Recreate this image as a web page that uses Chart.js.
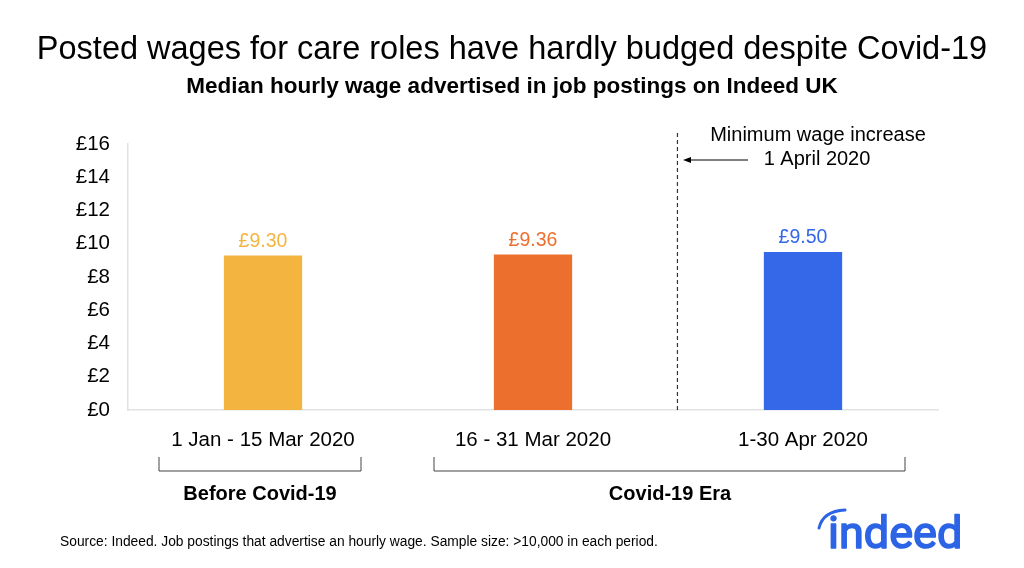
<!DOCTYPE html>
<html>
<head>
<meta charset="utf-8">
<script src="https://cdn.jsdelivr.net/npm/chart.js@4"></script>
<style>
  html, body { margin: 0; padding: 0; background: #fff; }
  #wrap { width: 1024px; height: 568px; }
</style>
</head>
<body>
<div id="wrap"><canvas id="wages"></canvas></div>
<script>
// data
const periods = ['1 Jan - 15 Mar 2020', '16 - 31 Mar 2020', '1-30 Apr 2020']
const wages = [9.30, 9.36, 9.50]
const barColors = ['#F4B440', '#EC6F2E', '#3468E8']
const yTicks = [0, 2, 4, 6, 8, 10, 12, 14, 16]
const groups = ['Before Covid-19', 'Covid-19 Era']

const FONT = '"Liberation Sans", Arial, sans-serif'

// titles, bar labels, brackets, the 1 April marker, source and logo
const extras = {
  id: 'extras',
  afterDraw(chart) {
    const c = chart.ctx
    const x = chart.scales.x
    const y = chart.scales.y
    const area = chart.chartArea
    c.save()

    c.fillStyle = '#000'
    c.textAlign = 'center'
    c.textBaseline = 'middle'
    c.font = '32.5px ' + FONT
    c.fillText('Posted wages for care roles have hardly budged despite Covid-19', 512, 50)
    c.font = 'bold 22.5px ' + FONT
    c.fillText('Median hourly wage advertised in job postings on Indeed UK', 512, 87)

    // value labels
    c.font = '19.5px ' + FONT
    wages.forEach((w, i) => {
      c.fillStyle = barColors[i]
      c.fillText('£' + w.toFixed(2), x.getPixelForValue(i), y.getPixelForValue(w) - 14)
    })

    // dashed marker between 2nd and 3rd period
    const step = x.getPixelForValue(1) - x.getPixelForValue(0)
    const mx = x.getPixelForValue(1) + step * 0.535
    c.strokeStyle = '#333'
    c.lineWidth = 1.2
    c.setLineDash([4, 3])
    c.beginPath()
    c.moveTo(mx, 133)
    c.lineTo(mx, area.bottom)
    c.stroke()
    c.setLineDash([])

    c.fillStyle = '#000'
    c.font = '20px ' + FONT
    c.fillText('Minimum wage increase', 818, 135)
    c.fillText('1 April 2020', 817, 159)
    c.lineWidth = 1
    c.strokeStyle = '#000'
    c.beginPath()
    c.moveTo(748, 160)
    c.lineTo(688, 160)
    c.stroke()
    c.beginPath()
    c.moveTo(683, 160)
    c.lineTo(691, 157)
    c.lineTo(691, 163)
    c.closePath()
    c.fill()

    // brackets under the period labels
    c.strokeStyle = '#444'
    c.lineWidth = 1
    const bracket = (x0, x1) => {
      c.beginPath()
      c.moveTo(x0, 457)
      c.lineTo(x0, 471)
      c.lineTo(x1, 471)
      c.lineTo(x1, 457)
      c.stroke()
    }
    bracket(159, 361)
    bracket(434, 905)
    c.font = 'bold 20px ' + FONT
    c.fillText(groups[0], 260, 494)
    c.fillText(groups[1], 670, 494)

    c.textAlign = 'left'
    c.font = '13.8px ' + FONT
    c.fillText('Source: Indeed. Job postings that advertise an hourly wage. Sample size: >10,000 in each period.', 60, 542)

    // logo
    c.fillStyle = '#2D64E6'
    c.strokeStyle = '#2D64E6'
    c.font = '45px Roboto, sans-serif'
    c.textBaseline = 'alphabetic'
    c.lineWidth = 1.6
    c.lineJoin = 'round'
    c.fillText('indeed', 828, 548)
    c.strokeText('indeed', 828, 548)
    c.lineWidth = 3
    c.lineCap = 'round'
    c.beginPath()
    c.moveTo(819, 528)
    c.quadraticCurveTo(823, 511, 845, 510)
    c.stroke()

    c.restore()
  }
}

new Chart(document.getElementById('wages'), {
  type: 'bar',
  data: {
    labels: periods,
    datasets: [{
      data: wages,
      backgroundColor: barColors,
      categoryPercentage: 1,
      barPercentage: 0.29
    }]
  },
  options: {
    responsive: true,
    maintainAspectRatio: false,
    animation: false,
    layout: { padding: { left: 59, right: 86, top: 144, bottom: 118 } },
    plugins: {
      legend: { display: false },
      tooltip: { enabled: false }
    },
    scales: {
      x: {
        grid: { display: false },
        border: { color: '#e2e2e2', width: 1.5 },
        ticks: { color: '#000', font: { family: FONT, size: 20.5 }, padding: 10 },
        afterFit: (s) => { s.height = 40 }
      },
      y: {
        min: 0,
        max: 16,
        afterBuildTicks: (s) => { s.ticks = yTicks.map(v => ({ value: v })) },
        grid: { display: false },
        border: { color: '#e2e2e2', width: 1.5 },
        ticks: {
          color: '#000',
          font: { family: FONT, size: 20.5 },
          padding: 10,
          callback: (v) => '£' + v
        },
        afterFit: (s) => { s.width = 69 }
      }
    }
  },
  plugins: [extras]
})
</script>
</body>
</html>
